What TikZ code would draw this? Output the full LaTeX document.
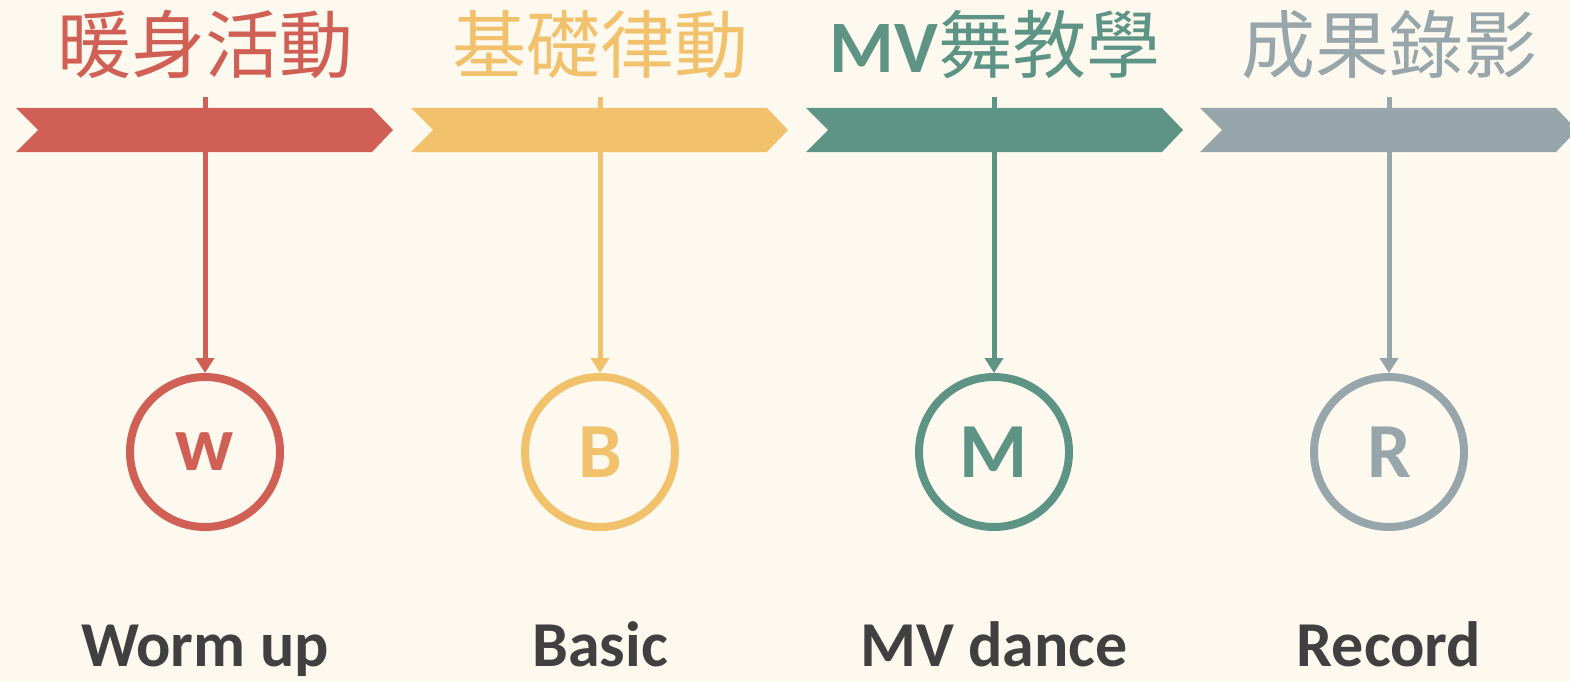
\documentclass[tikz,border=0pt]{standalone}
\usepackage{fontspec}
\usetikzlibrary{arrows.meta}
\newfontfamily\lat{Carlito}
\newfontfamily\cjk{Noto Sans CJK TC}
\definecolor{bgc}{HTML}{FEF9EF}
\definecolor{cred}{HTML}{D06055}
\definecolor{cyel}{HTML}{F2C16C}
\definecolor{cgrn}{HTML}{5E9486}
\definecolor{cgry}{HTML}{97A6AA}
\definecolor{ctxt}{HTML}{404040}
\tikzset{
  chev/.style={fill=#1, draw=none},
  stem/.style={draw=#1, line width=5pt, -{Triangle[width=18pt,length=15pt]}},
  ring/.style={circle, draw=#1, line width=8pt, minimum size=150pt, inner sep=0pt,
    text=#1, font=\lat\bfseries\fontsize{78}{84}\selectfont, anchor=center},
  title/.style={text=#1, font=\cjk\fontsize{74}{80}\selectfont, anchor=base, inner sep=0pt},
  label/.style={text=ctxt, font=\lat\bfseries\fontsize{64}{70}\selectfont, anchor=base, inner sep=0pt},
}
\begin{document}
\begin{tikzpicture}[x=1pt,y=-1pt]
\useasboundingbox (0,0) rectangle (1570,682);
\fill[bgc] (0,0) rectangle (1570,682);
\foreach \x/\c [count=\i] in {16/cred,411/cyel,806/cgrn,1200/cgry}{
  \fill[chev=\c] (\x,108) -- (\x+356,108) -- (\x+377,130) -- (\x+356,152) -- (\x,152) -- (\x+22,130) -- cycle;
}
% titles
\node[title=cred] (t1) at (205,73) {暖身活動};
\node[title=cyel] (t2) at (600,73) {基礎律動};
\node[title=cgrn] (t3) at (995,73) {{\lat\bfseries MV}舞教學};
\node[title=cgry] (t4) at (1389,73) {成果錄影};
% stem tops
\coordinate (s1) at (205,97);
\coordinate (s2) at (600,97);
\coordinate (s3) at (994,97);
\coordinate (s4) at (1389,97);
% circles
\node[ring=cred] (c1) at (205,452) {w};
\node[ring=cyel] (c2) at (600,452) {B};
\node[ring=cgrn] (c3) at (994,452) {M};
\node[ring=cgry] (c4) at (1389,452) {R};
\draw[stem=cred] (s1) -- (c1);
\draw[stem=cyel] (s2) -- (c2);
\draw[stem=cgrn] (s3) -- (c3);
\draw[stem=cgry] (s4) -- (c4);
% labels
\node[label] (l1) at (205,666) {Worm up};
\node[label] (l2) at (600,666) {Basic};
\node[label] (l3) at (994,666) {MV dance};
\node[label] (l4) at (1389,666) {Record};
\end{tikzpicture}
\end{document}
